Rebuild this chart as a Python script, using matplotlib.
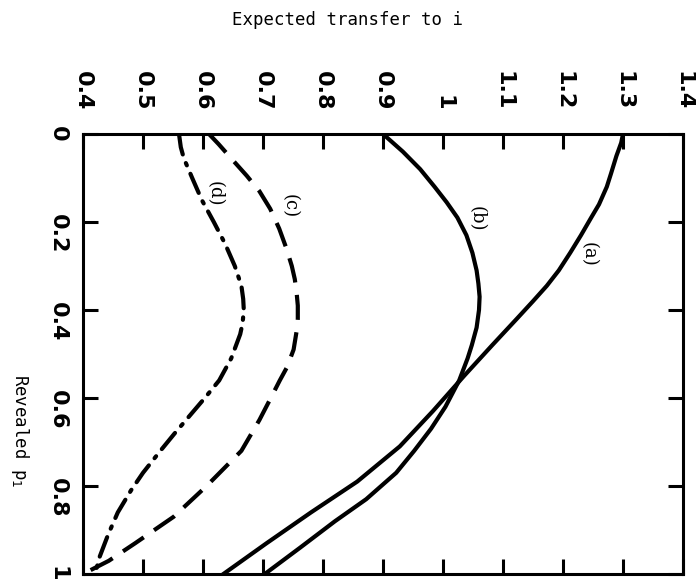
import numpy as np
import matplotlib.pyplot as plt

# revealed p1 (vertical axis, 0 at top) and expected transfer (horizontal axis)
p_a = [0.0, 0.02, 0.05, 0.09, 0.12, 0.16, 0.19, 0.23, 0.27, 0.31, 0.345, 0.38, 0.42,
       0.48, 0.55, 0.63, 0.71, 0.79, 0.86, 0.93, 1.0]
t_a = [1.30, 1.297, 1.289, 1.280, 1.273, 1.260, 1.247, 1.230, 1.212, 1.193, 1.173, 1.150, 1.123,
       1.082, 1.035, 0.983, 0.928, 0.857, 0.780, 0.706, 0.634]

p_b = [0.0, 0.04, 0.08, 0.12, 0.155, 0.19, 0.23, 0.27, 0.31, 0.34, 0.37, 0.40, 0.44,
       0.48, 0.51, 0.56, 0.62, 0.67, 0.72, 0.77, 0.83, 0.88, 0.94, 1.0]
t_b = [0.90, 0.933, 0.962, 0.986, 1.006, 1.024, 1.039, 1.049, 1.056, 1.059, 1.061, 1.060, 1.056,
       1.048, 1.041, 1.027, 1.004, 0.980, 0.952, 0.922, 0.872, 0.820, 0.762, 0.703]

p_c = [0.0, 0.023, 0.06, 0.095, 0.13, 0.17, 0.215, 0.26, 0.30, 0.33, 0.36, 0.39, 0.42, 0.44,
       0.49, 0.53, 0.56, 0.60, 0.65, 0.72, 0.80, 0.87, 0.93, 0.97, 1.0]
t_c = [0.61, 0.626, 0.650, 0.673, 0.694, 0.712, 0.727, 0.739, 0.748, 0.753, 0.756, 0.758, 0.758, 0.757,
       0.751, 0.740, 0.728, 0.713, 0.694, 0.664, 0.606, 0.551, 0.487, 0.443, 0.40]

p_d = [0.0, 0.03, 0.055, 0.10, 0.15, 0.20, 0.25, 0.30, 0.345, 0.375, 0.40, 0.43, 0.455,
       0.51, 0.56, 0.60, 0.64, 0.68, 0.72, 0.77, 0.81, 0.86, 0.91, 0.96, 1.0]
t_d = [0.56, 0.563, 0.568, 0.582, 0.598, 0.618, 0.637, 0.653, 0.664, 0.667, 0.668, 0.666, 0.662,
       0.647, 0.627, 0.603, 0.578, 0.553, 0.529, 0.500, 0.480, 0.458, 0.442, 0.428, 0.42]

x_ticks = [0.4, 0.5, 0.6, 0.7, 0.8, 0.9, 1.0, 1.1, 1.2, 1.3, 1.4]
x_ticklabels = ['0.4', '0.5', '0.6', '0.7', '0.8', '0.9', '1', '1.1', '1.2', '1.3', '1.4']
y_ticks = [0, 0.2, 0.4, 0.6, 0.8, 1.0]
y_ticklabels = ['0', '0.2', '0.4', '0.6', '0.8', '1']

curve_labels = ['(a)', '(b)', '(c)', '(d)']
label_pos = [(1.242, 0.273), (1.056, 0.193), (0.745, 0.163), (0.62, 0.136)]

mono = ['DejaVu Sans Mono']
tickfont = ['DejaVu Sans']

fig = plt.figure(figsize=(6.96, 5.82), dpi=100)
ax = fig.add_axes([83 / 696, 1 - 574 / 582, 600 / 696, 440 / 582])

ax.plot(t_a, p_a, color='black', lw=3.0, solid_joinstyle='round')
ax.plot(t_b, p_b, color='black', lw=3.0, solid_joinstyle='round')
ax.plot(t_c, p_c, color='black', lw=3.0, dashes=(6, 3))
ax.plot(t_d, p_d, color='black', lw=3.0, dashes=(5, 2.2, 0.6, 2.2), dash_capstyle='round')

ax.set_xlim(0.4, 1.4)
ax.set_ylim(1.0, 0.0)

ax.set_xticks(x_ticks)
ax.set_xticklabels(x_ticklabels, rotation=-90, family=tickfont, fontsize=16, fontweight='bold')
ax.set_yticks(y_ticks)
ax.set_yticklabels(y_ticklabels, rotation=-90, family=tickfont, fontsize=16, fontweight='bold')
ax.tick_params(axis='both', direction='in', length=11, width=2.2,
               top=True, bottom=True, left=True, right=True,
               labeltop=True, labelbottom=False, labelleft=True, labelright=False)
ax.tick_params(axis='x', pad=17)
ax.tick_params(axis='y', pad=11)
for s in ax.spines.values():
    s.set_linewidth(2.2)

for lab, (tx, py) in zip(curve_labels, label_pos):
    ax.text(tx, py, lab, rotation=-90, ha='center', va='center',
            family=['DejaVu Serif'], fontsize=13)

fig.text(348 / 696, 1 - 20 / 582, 'Expected transfer to i', ha='center', va='center',
         family=mono, fontsize=12.5)
fig.text(20 / 696, 1 - 431 / 582, 'Revealed p$_1$', rotation=-90, ha='center', va='center',
         family=mono, fontsize=12.5)

fig.savefig('out.png', dpi=100)
